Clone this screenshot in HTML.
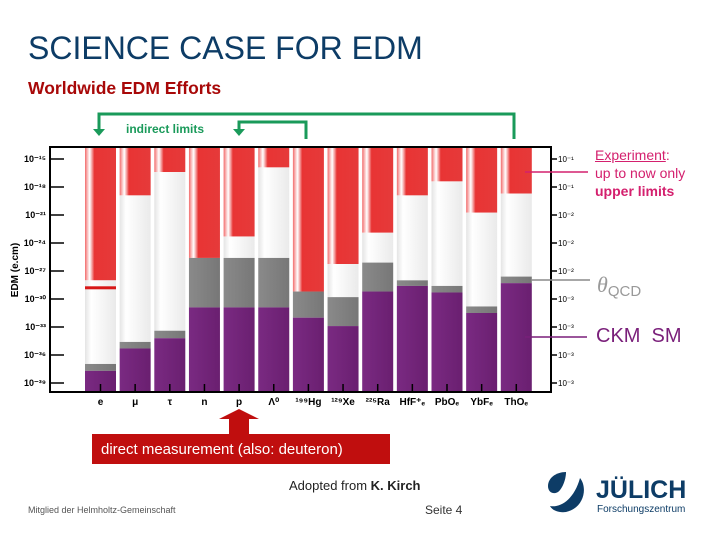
<!DOCTYPE html>
<html><head><meta charset="utf-8">
<style>
body{margin:0;background:#fff;}
#slide{position:relative;width:720px;height:540px;overflow:hidden;font-family:"Liberation Sans",sans-serif;background:#fff;}
.abs{position:absolute;white-space:nowrap;}
</style></head>
<body>
<div id="slide">
<div class="abs" style="left:28px;top:30px;font-size:32px;color:#0d3c66;">SCIENCE CASE FOR EDM</div>
<div class="abs" style="left:28px;top:78px;font-size:17.5px;font-weight:bold;color:#a80808;">Worldwide EDM Efforts</div>

<svg id="chart" width="720" height="540" style="position:absolute;left:0;top:0" xmlns="http://www.w3.org/2000/svg">
<defs>
<linearGradient id="gRed" x1="0" x2="1" y1="0" y2="0"><stop offset="0" stop-color="#f26a6a"/><stop offset="0.15" stop-color="#ffffff" stop-opacity="0.9"/><stop offset="0.3" stop-color="#e83434"/><stop offset="1" stop-color="#e63a3a"/></linearGradient>
<linearGradient id="gWhite" x1="0" x2="1"><stop offset="0" stop-color="#e4e4e4"/><stop offset="0.2" stop-color="#ffffff"/><stop offset="1" stop-color="#eaeaea"/></linearGradient>
<linearGradient id="gGrey" x1="0" x2="1"><stop offset="0" stop-color="#8a8a8a"/><stop offset="1" stop-color="#777"/></linearGradient>
<linearGradient id="gPurple" x1="0" x2="1"><stop offset="0" stop-color="#7a2a82"/><stop offset="1" stop-color="#6a1f70"/></linearGradient>
</defs>
<g id="bars"></g>
<g id="axes"></g>
<g stroke="#1a9a5a" stroke-width="3" fill="none">
<polyline points="99,131 99,114 514,114 514,139"/>
<polyline points="239,131 239,122 306,122 306,139"/>
</g>
<polygon points="93,129 105,129 99,136" fill="#1a9a5a"/>
<polygon points="233,129 245,129 239,136" fill="#1a9a5a"/>
<text x="126" y="133" font-size="12" font-weight="bold" fill="#1a9a5a" font-family="Liberation Sans">indirect limits</text>
<line x1="525" y1="172" x2="588" y2="172" stroke="#d4206e" stroke-width="1.5"/>
<line x1="531" y1="280" x2="590" y2="280" stroke="#8a8a8a" stroke-width="1.5"/>
<line x1="525" y1="337" x2="587" y2="337" stroke="#7a1f7a" stroke-width="1.5"/>
<polygon points="239,409 259,419 249,419 249,434 229,434 229,419 219,419" fill="#c00e0e"/>
<rect x="92" y="434" width="298" height="30" fill="#c00e0e"/>
<text x="101" y="454" font-size="15" fill="#fff" font-family="Liberation Sans">direct measurement  (also: deuteron)</text>
</svg>

<div class="abs" style="left:595px;top:146px;font-size:14px;line-height:18px;color:#d4206e;"><span style="text-decoration:underline">Experiment</span>:<br>up to now only<br><b>upper limits</b></div>
<div class="abs" style="left:597px;top:272px;color:#999;"><span style="font-family:'Liberation Serif',serif;font-style:italic;font-size:22px;">θ</span><span style="font-size:15px;position:relative;top:4px;">QCD</span></div>
<div class="abs" style="left:596px;top:325px;font-size:20px;color:#7a1f7a;">CKM&nbsp;&nbsp;SM</div>

<div class="abs" style="left:289px;top:478px;font-size:13px;color:#222;">Adopted from <b>K. Kirch</b></div>
<div class="abs" style="left:425px;top:503px;font-size:12px;color:#333;">Seite 4</div>
<div class="abs" style="left:28px;top:505px;font-size:9px;color:#555;">Mitglied der Helmholtz-Gemeinschaft</div>
<svg style="position:absolute;left:544px;top:470px" width="46" height="44">
<path d="M22 2 C12 2 4 8 4 16 C4 22 9 25 14 22 C18 19 22 10 22 2Z" fill="#0d3c66"/>
<path d="M36 8 C44 18 40 38 22 42 C14 43 8 40 6 36 C16 38 30 30 36 8Z" fill="#0d3c66"/>
</svg>
<div class="abs" style="left:596px;top:476px;font-size:25px;font-weight:bold;color:#0d3c66;">JÜLICH</div>
<div class="abs" style="left:597px;top:504px;font-size:10px;color:#0d3c66;">Forschungszentrum</div>
</div>

<script>
const categories = ["e","μ","τ","n","p","Λ⁰","¹⁹⁹Hg","¹²⁹Xe","²²⁵Ra","HfF⁺ₑ","PbOₑ","YbFₑ","ThOₑ"];
const expLimit = [-28.0,-18.9,-16.4,-25.6,-23.3,-15.9,-29.2,-26.25,-22.9,-18.9,-17.4,-20.75,-18.7];
const thetaQCD = [-36.96,-34.6,-33.4,-25.6,-25.6,-25.6,-29.2,-29.8,-26.1,-28.0,-28.6,-30.8,-27.6];
const ckmSM = [-37.7,-35.3,-34.2,-30.9,-30.9,-30.9,-32.0,-32.9,-29.2,-28.6,-29.3,-31.5,-28.3];
const eNewLimit = -28.8;
const tickExps = [-15,-18,-21,-24,-27,-30,-33,-36,-39];
const rightTickLabels = ["10⁻¹","10⁻¹","10⁻²","10⁻²","10⁻²","10⁻³","10⁻³","10⁻³","10⁻³"];

const NS="http://www.w3.org/2000/svg";
const X0=50,X1=551,Y0=147,Y1=392;
function yScale(e){return 159+(-15-e)/3*28;}
function xBand(i){return 85+i*34.65;}
const BW=31;
function mk(tag,attrs,parent){const el=document.createElementNS(NS,tag);for(const k in attrs)el.setAttribute(k,attrs[k]);parent.appendChild(el);return el;}
const bars=document.getElementById('bars');
const axes=document.getElementById('axes');
categories.forEach((c,i)=>{
  const x=xBand(i);
  const segs=[[Y0,yScale(expLimit[i]),'url(#gRed)','red'],[yScale(expLimit[i]),yScale(thetaQCD[i]),'url(#gWhite)','white'],[yScale(thetaQCD[i]),yScale(ckmSM[i]),'url(#gGrey)','grey'],[yScale(ckmSM[i]),Y1,'url(#gPurple)','purple']];
  segs.forEach(s=>{
    if(s[1]-s[0]<=0)return;
    const r=mk('rect',{x:x,y:s[0],width:BW,height:s[1]-s[0],fill:s[2]},bars);
    
    
  });
  const t=mk('line',{x1:x+BW/2,x2:x+BW/2,y1:Y1-8,y2:Y1,stroke:'#000','stroke-width':1.5},axes);
  
  
  const lb=mk('text',{x:x+BW/2,y:405,'text-anchor':'middle','font-size':10,'font-weight':'bold','font-family':'Liberation Sans'},axes);
  lb.textContent=c;
  
  
});
const nl=mk('rect',{x:xBand(0),y:yScale(eNewLimit)-1.5,width:BW,height:3,fill:'#d81818'},bars);


const fr=mk('rect',{x:X0,y:Y0,width:X1-X0,height:Y1-Y0,fill:'none',stroke:'#000','stroke-width':2},axes);


tickExps.forEach((e,k)=>{
  const y=yScale(e);
  const l=mk('line',{x1:X0,x2:X0+14,y1:y,y2:y,stroke:'#000','stroke-width':1.5},axes);
  
  
  const tx=mk('text',{x:46,y:y+3,'text-anchor':'end','font-size':9,'font-weight':'bold','font-family':'Liberation Sans'},axes);
  tx.textContent='10'+String(e).replace('-','⁻').replace(/\d/g,d=>'⁰¹²³⁴⁵⁶⁷⁸⁹'[d]);
  
  
  const r=mk('line',{x1:X1,x2:X1+6,y1:y,y2:y,stroke:'#000','stroke-width':1.5},axes);
  
  
  const rt=mk('text',{x:558,y:y+3,'font-size':8,'font-family':'Liberation Sans'},axes);
  rt.textContent=rightTickLabels[k];
  
  
});
const yt=mk('text',{x:18,y:270,transform:'rotate(-90 18 270)','text-anchor':'middle','font-size':10,'font-weight':'bold','font-family':'Liberation Sans'},axes);
yt.textContent='EDM (e.cm)';


</script>
</body></html>
